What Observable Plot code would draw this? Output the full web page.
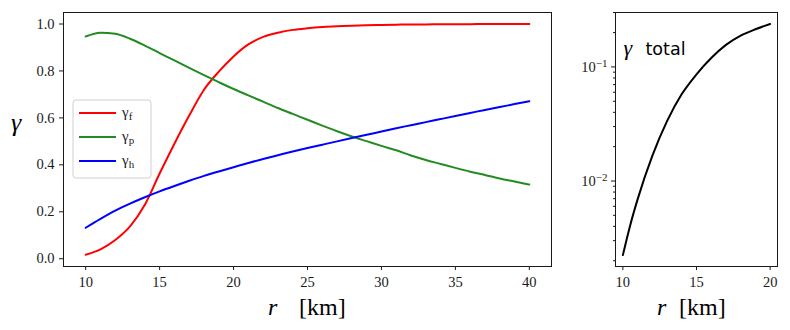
<!DOCTYPE html>
<html><head><meta charset="utf-8">
<script src="https://cdn.jsdelivr.net/npm/d3@7"></script>
<script src="https://cdn.jsdelivr.net/npm/@observablehq/plot@0.6"></script>
<style>
body{margin:0;background:#fff;}
#wrap{position:relative;width:790px;height:330px;overflow:hidden;}
#wrap > svg, #wrap > div{position:absolute;}
#wrap text, #wrap tspan{font-family:"Liberation Serif","DejaVu Serif",serif;}
#wrap text.sans{font-family:"DejaVu Sans",sans-serif;}
</style></head><body><div id="wrap"></div>
<script>
// ---- data ----
const rLeft = [10,11,12,13,14,15,16,17,18,19,20,21,22,23,24,25,26,27,28,29,30,31,32,33,34,35,36,37,38,39,40];
const gammaF = [0.017,0.040,0.080,0.138,0.230,0.363,0.490,0.610,0.720,0.797,0.862,0.913,0.945,0.963,0.975,0.982,0.987,0.990,0.993,0.995,0.996,0.997,0.998,0.998,0.999,0.999,0.999,1.000,1.000,1.000,1.000];
const gammaP = [0.947,0.963,0.958,0.937,0.908,0.876,0.845,0.813,0.782,0.752,0.723,0.696,0.669,0.642,0.617,0.592,0.567,0.543,0.521,0.501,0.481,0.462,0.440,0.421,0.404,0.387,0.371,0.357,0.342,0.329,0.316];
const gammaH = [0.132,0.170,0.205,0.235,0.262,0.287,0.310,0.332,0.353,0.372,0.390,0.408,0.425,0.441,0.457,0.472,0.486,0.500,0.514,0.528,0.542,0.556,0.569,0.582,0.595,0.608,0.621,0.634,0.646,0.659,0.671];
const seriesNames = ["f","p","h"];
const seriesColors = ["#ff0000","#228b22","#0000ff"];

const rRight = [10,10.5,11,12,13,14,15,16,17,18,19,20];
const gammaTotal = [0.00224,0.0041,0.0069,0.0166,0.0335,0.0578,0.0861,0.1197,0.156,0.188,0.214,0.238];

const leftXTicks = [10,15,20,25,30,35,40];
const leftYTicks = [0,0.2,0.4,0.6,0.8,1.0];
const rightXTicks = [10,15,20];
const rightYMajor = [0.01,0.1];
const rightYMinor = [0.002,0.003,0.004,0.005,0.006,0.007,0.008,0.009,0.02,0.03,0.04,0.05,0.06,0.07,0.08,0.09,0.2,0.3];

// ---- build tables ----
const seriesVals = [gammaF, gammaP, gammaH];
const leftRows = seriesNames.flatMap((s, i) => rLeft.map((r, j) => ({r, v: seriesVals[i][j], s})));
const rightRows = rRight.map((r, j) => ({r, v: gammaTotal[j]}));

const ink = "#1a1a1a";
const wrap = document.getElementById("wrap");

// ---- left panel ----
const left = Plot.plot({
  width: 560, height: 330,
  marginLeft: 63, marginRight: 9, marginTop: 12, marginBottom: 64,
  style: {fontSize: "14px", fontFamily: "Liberation Serif", color: ink, background: "transparent"},
  x: {domain: [8.5, 41.5]},
  y: {domain: [-0.033, 1.049]},
  color: {domain: seriesNames, range: seriesColors},
  marks: [
    Plot.axisX({ticks: leftXTicks, tickSize: 4, tickPadding: 6, tickFormat: d => String(d), label: null, fontSize: 14.5, stroke: ink}),
    Plot.axisY({ticks: leftYTicks, tickSize: 4, tickPadding: 5, tickFormat: d3.format(".1f"), label: null, fontSize: 14.5, stroke: ink}),
    Plot.line(leftRows, {x: "r", y: "v", z: "s", stroke: "s", strokeWidth: 2, curve: "monotone-x"}),
    Plot.frame({stroke: ink, strokeWidth: 1})
  ]
});
left.style.left = "0px"; left.style.top = "0px";
wrap.appendChild(left);

// ---- right panel ----
const right = Plot.plot({
  width: 230, height: 330,
  marginLeft: 55, marginRight: 13, marginTop: 12, marginBottom: 64,
  style: {fontSize: "14px", fontFamily: "Liberation Serif", color: ink, background: "transparent"},
  x: {domain: [9.5, 20.5]},
  y: {type: "log", domain: [0.00178, 0.30]},
  marks: [
    Plot.axisX({ticks: rightXTicks, tickSize: 4, tickPadding: 6, tickFormat: d => String(d), label: null, fontSize: 14.5, stroke: ink}),
    Plot.axisY({ticks: rightYMinor, tickSize: 2, tickFormat: () => "", label: null, stroke: ink}),
    Plot.axisY({ticks: rightYMajor, tickSize: 4, tickPadding: 4, tickFormat: d => "10^" + Math.round(Math.log10(d)), label: null, fontSize: 14.5, stroke: ink}),
    Plot.line(rightRows, {x: "r", y: "v", stroke: "#000", strokeWidth: 2, curve: "monotone-x"}),
    Plot.text(["γ"], {frameAnchor: "top-left", dx: 8, dy: 27, textAnchor: "start", fontSize: 22, fontStyle: "italic", fill: "#000"}),
    Plot.text(["total"], {frameAnchor: "top-left", dx: 30, dy: 30, textAnchor: "start", fontSize: 17.5, fill: "#000"}),
    Plot.frame({stroke: ink, strokeWidth: 1})
  ]
});
right.style.left = "560px"; right.style.top = "0px";
wrap.appendChild(right);
d3.select(right).selectAll("text").filter(function() { return this.textContent === "total"; }).classed("sans", true);

// superscript exponents on log tick labels
d3.select(right).selectAll("text").each(function() {
  const t = this.textContent;
  if (/^10\^/.test(t)) {
    const e = t.slice(3).replace("-", "\u2212");
    const sel = d3.select(this);
    sel.text(null);
    sel.append("tspan").text("10");
    sel.append("tspan").attr("dy", "-0.45em").attr("font-size", "11px").text(e);
  }
});

// ---- overlay: axis labels and legend ----
const ov = d3.select(wrap).append("svg").attr("width", 790).attr("height", 330)
  .style("left", "0px").style("top", "0px").style("pointer-events", "none")
  .attr("fill", "#000");

ov.append("text").attr("x", 16).attr("y", 131).attr("text-anchor", "middle")
  .attr("font-size", 26).attr("font-style", "italic").text("γ");

function xLabel(xr, xk) {
  ov.append("text").attr("x", xr).attr("y", 315).attr("font-size", 24).attr("font-style", "italic").text("r");
  ov.append("text").attr("x", xk).attr("y", 315).attr("font-size", 24).text("[km]");
}
xLabel(268, 299);
xLabel(657, 679);

// legend
const lg = ov.append("g").attr("transform", "translate(73,100)");
lg.append("rect").attr("width", 78).attr("height", 78).attr("rx", 3)
  .attr("fill", "rgba(255,255,255,0.8)").attr("stroke", "#d0d0d0").attr("stroke-width", 1);
seriesNames.forEach((s, i) => {
  const y = 13 + i * 24;
  lg.append("line").attr("x1", 6).attr("x2", 43).attr("y1", y).attr("y2", y)
    .attr("stroke", seriesColors[i]).attr("stroke-width", 2);
  const t = lg.append("text").attr("x", 49).attr("y", y + 4).attr("font-size", 15).attr("fill", "#222");
  t.append("tspan").text("γ");
  t.append("tspan").attr("dy", 3).attr("font-size", 11).text(s);
});
</script>
</body></html>
